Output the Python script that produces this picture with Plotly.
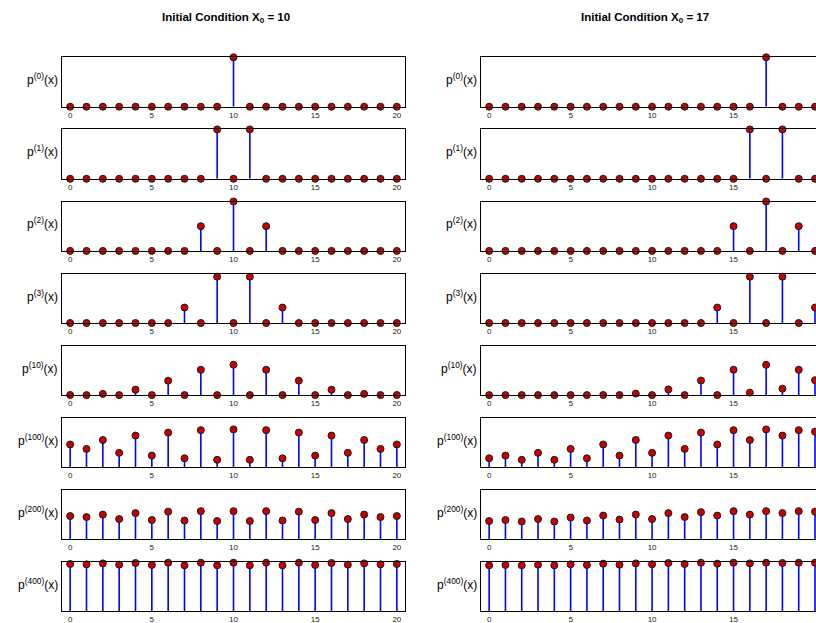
import plotly.graph_objects as go

# ---------------- data ----------------
states = list(range(21))
row_labels = ["p<sup>(0)</sup>(x)", "p<sup>(1)</sup>(x)", "p<sup>(2)</sup>(x)", "p<sup>(3)</sup>(x)",
              "p<sup>(10)</sup>(x)", "p<sup>(100)</sup>(x)", "p<sup>(200)</sup>(x)", "p<sup>(400)</sup>(x)"]
col_titles = ["Initial Condition X<sub>0</sub> = 10", "Initial Condition X<sub>0</sub> = 17"]
tick_vals = [0, 5, 10, 15, 20]
tick_text = ["0", "5", "10", "15", "20"]
y_limits = [1.0, 0.5, 0.5, 0.4, 0.4, 0.1, 0.1, 0.05]

# initial condition X0 = 10
left_p0 = [0]*10 + [1.0] + [0]*10
left_p1 = [0]*9 + [0.5, 0, 0.5] + [0]*9
left_p2 = [0]*8 + [0.25, 0, 0.5, 0, 0.25] + [0]*8
left_p3 = [0]*7 + [0.125, 0, 0.375, 0, 0.375, 0, 0.125] + [0]*7
left_p10 = [0.001, 0, 0.0098, 0, 0.044, 0, 0.117, 0, 0.205, 0, 0.246,
            0, 0.205, 0, 0.117, 0, 0.044, 0, 0.0098, 0, 0.001]
left_p100 = [0.046, 0.037, 0.055, 0.029, 0.064, 0.0235, 0.070, 0.018, 0.075, 0.015, 0.0765,
             0.015, 0.075, 0.018, 0.070, 0.0235, 0.064, 0.029, 0.055, 0.037, 0.046]
left_p200 = [0.047, 0.045, 0.050, 0.041, 0.053, 0.039, 0.056, 0.038, 0.057, 0.037, 0.057,
             0.037, 0.057, 0.038, 0.056, 0.039, 0.053, 0.041, 0.050, 0.045, 0.047]
left_p400 = [0.0480, 0.0476, 0.0486, 0.0473, 0.0490, 0.0470, 0.0493, 0.0466, 0.0493, 0.0466, 0.0493,
             0.0466, 0.0493, 0.0466, 0.0493, 0.0470, 0.0490, 0.0473, 0.0486, 0.0476, 0.0480]

# initial condition X0 = 17
right_p0 = [0]*17 + [1.0] + [0]*3
right_p1 = [0]*16 + [0.5, 0, 0.5] + [0]*2
right_p2 = [0]*15 + [0.25, 0, 0.5, 0, 0.25] + [0]
right_p3 = [0]*14 + [0.125, 0, 0.375, 0, 0.375, 0, 0.125]
right_p10 = [0, 0, 0, 0, 0, 0, 0, 0.001, 0, 0.012, 0, 0.046, 0, 0.118, 0, 0.205, 0.02, 0.245,
             0.052, 0.205, 0.12]
right_p100 = [0.018, 0.0235, 0.015, 0.029, 0.015, 0.037, 0.018, 0.046, 0.0235, 0.055, 0.029,
              0.064, 0.037, 0.070, 0.046, 0.075, 0.055, 0.0765, 0.064, 0.075, 0.072]
right_p200 = [0.037, 0.039, 0.036, 0.041, 0.036, 0.044, 0.038, 0.048, 0.040, 0.050, 0.041,
              0.053, 0.045, 0.055, 0.048, 0.057, 0.050, 0.057, 0.053, 0.057, 0.056]
right_p400 = [0.0466, 0.0470, 0.0466, 0.0473, 0.0466, 0.0476, 0.0470, 0.0483, 0.0473, 0.0486, 0.0476,
              0.0490, 0.0480, 0.0493, 0.0483, 0.0493, 0.0486, 0.0493, 0.0490, 0.0493, 0.0493]

left_rows = [left_p0, left_p1, left_p2, left_p3, left_p10, left_p100, left_p200, left_p400]
right_rows = [right_p0, right_p1, right_p2, right_p3, right_p10, right_p100, right_p200, right_p400]

# ---------------- layout geometry (pixels) ----------------
W, H = 816, 623
col_px = [(62.0, 405.0), (481.0, 816.0)]
x_ranges = [[-0.5, 20.5], [-0.5, 20.06]]
row_top0, row_pitch, row_h = 57.3, 72.1, 49.4

STEM = "#0000ff"
MFILL = "#c80000"
FONT = "Liberation Sans, Arial, Helvetica, sans-serif"

fig = go.Figure()
layout = dict(width=W, height=H, margin=dict(l=0, r=0, t=0, b=0),
              paper_bgcolor="white", plot_bgcolor="white", showlegend=False,
              font=dict(family=FONT, color="black"))
annotations = []

n = 0
for c, rows in enumerate([left_rows, right_rows]):
    x0p, x1p = col_px[c]
    for r, vals in enumerate(rows):
        n += 1
        xa = "x" if n == 1 else f"x{n}"
        ya = "y" if n == 1 else f"y{n}"
        top = row_top0 + r * row_pitch
        bot = top + row_h
        sx, sy = [], []
        for xi, v in zip(states, vals):
            if v > 0:
                sx += [xi, xi, None]
                sy += [0, v, None]
        fig.add_trace(go.Scatter(x=sx, y=sy, mode="lines", xaxis=xa, yaxis=ya,
                                 line=dict(color=STEM, width=1.6), hoverinfo="skip"))
        fig.add_trace(go.Scatter(x=states, y=vals, mode="markers", xaxis=xa, yaxis=ya,
                                 cliponaxis=False,
                                 marker=dict(size=7, color=MFILL, line=dict(color="#1a1a1a", width=1))))
        layout["xaxis" if n == 1 else f"xaxis{n}"] = dict(
            domain=[x0p / W, x1p / W], range=x_ranges[c], anchor=ya,
            showline=True, linecolor="black", linewidth=1.4, mirror=True,
            showgrid=False, zeroline=False, ticks="",
            tickvals=tick_vals, ticktext=tick_text,
            tickfont=dict(size=8, family=FONT, color="#222"))
        layout["yaxis" if n == 1 else f"yaxis{n}"] = dict(
            domain=[1 - bot / H, 1 - top / H], range=[0, y_limits[r]], anchor=xa,
            showline=True, linecolor="black", linewidth=1.4, mirror=(c == 0),
            showgrid=False, zeroline=False, ticks="", showticklabels=False)
        annotations.append(dict(text=row_labels[r], xref="paper", yref="paper",
                                x=(x0p - 2) / W, y=1 - (top + 22) / H,
                                xanchor="right", yanchor="middle", showarrow=False,
                                font=dict(size=12, family=FONT, color="black")))

title_x = [226, 645]
for c in range(2):
    annotations.append(dict(text="<b>" + col_titles[c] + "</b>", xref="paper", yref="paper",
                            x=title_x[c] / W, y=1 - 18 / H, xanchor="center", yanchor="middle",
                            showarrow=False, font=dict(size=11.5, family=FONT, color="black")))

layout["annotations"] = annotations
fig.update_layout(**layout)
fig.write_html("out.html")
